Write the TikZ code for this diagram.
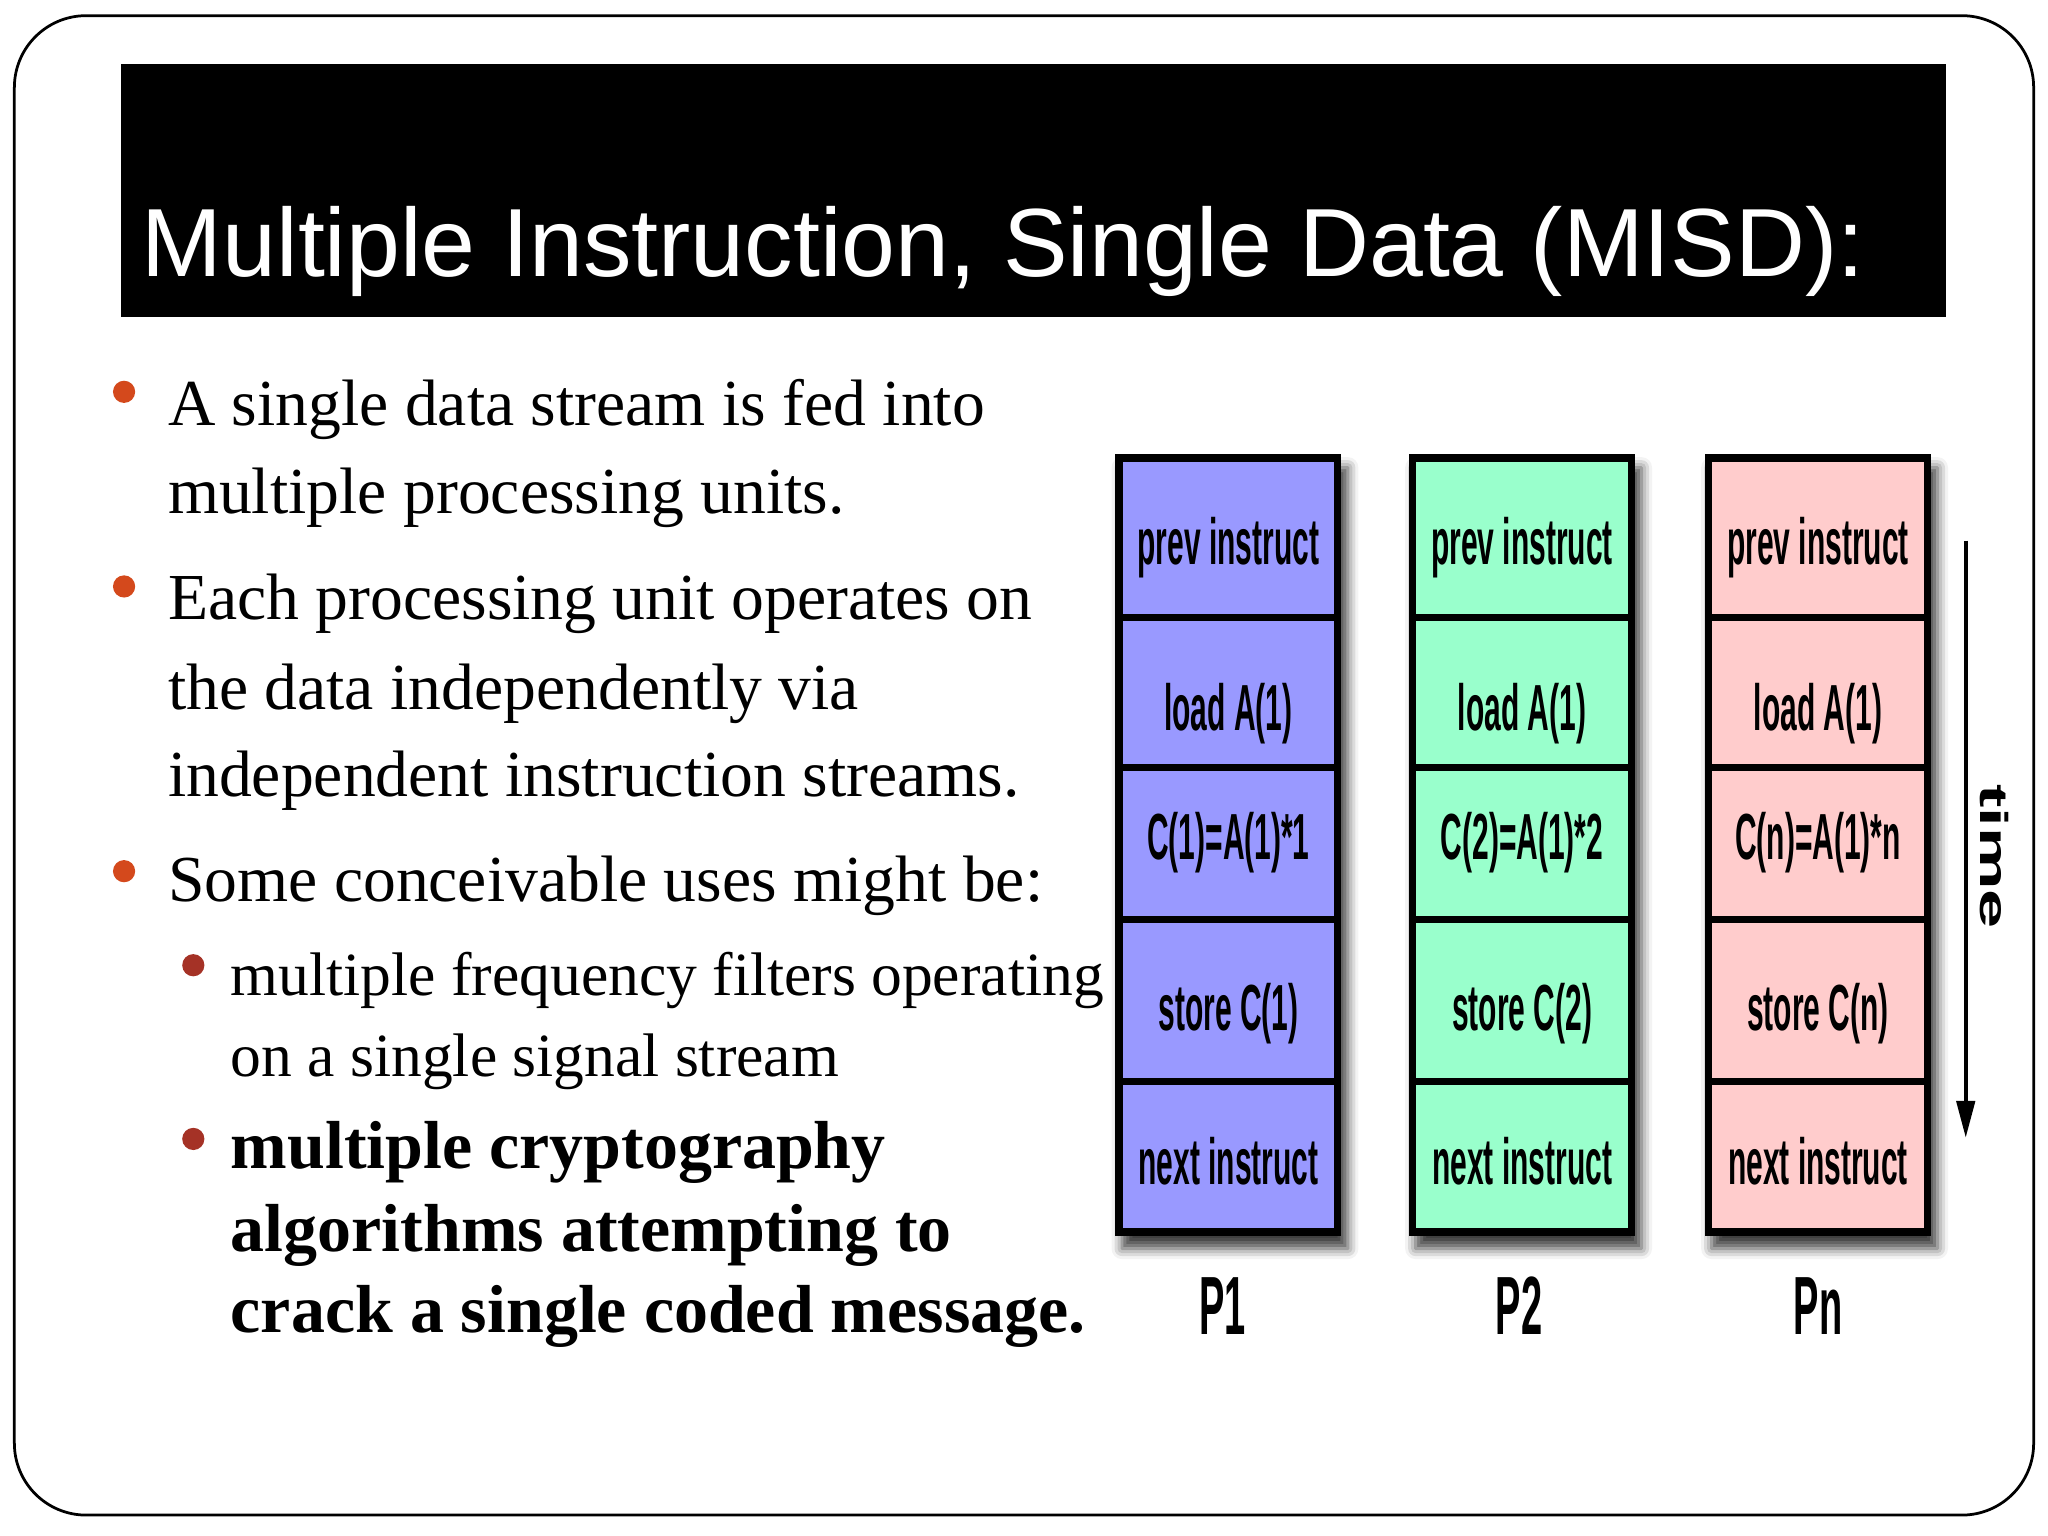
\documentclass[tikz,border=0pt]{standalone}
\usepackage{fontspec}
\setmainfont{Liberation Serif}
\newfontfamily\titlefont{Liberation Sans}
\newfontfamily\cellfont[FakeStretch=0.46]{Liberation Sans}
\newfontfamily\timefont[FakeStretch=1.8]{Liberation Sans}
\usetikzlibrary{arrows.meta,shadows.blur}

\definecolor{pone}{HTML}{9999FF}
\definecolor{ptwo}{HTML}{99FFCC}
\definecolor{pn}{HTML}{FFCCCC}
\definecolor{bulletred}{HTML}{D4491C}
\definecolor{subred}{HTML}{A53226}

\tikzset{
	point/.style={anchor=base west, inner sep=0pt, font=\fontsize{14.3}{17}\selectfont},
	subpoint/.style={anchor=base west, inner sep=0pt, font=\fontsize{13.4}{16}\selectfont},
	boldpoint/.style={anchor=base west, inner sep=0pt, font=\bfseries\fontsize{14.8}{17}\selectfont},
	dot/.style={circle, fill=bulletred, inner sep=0pt, minimum size=0.17cm},
	subdot/.style={dot, fill=subred},
	column/.style={fill=black, inner sep=0pt, minimum width=1.73cm, minimum height=5.98cm,
		blur shadow={shadow xshift=0.05cm, shadow yshift=-0.1cm, shadow blur radius=0.08cm, shadow opacity=75}},
	cell/.style={draw=black, line width=1.6pt, inner sep=0pt, minimum width=1.675cm, text depth=0pt,
		font=\cellfont\bfseries\fontsize{14.2}{17}\selectfont},
	% one style per row: height of the box, and how low the text sits
	prevrow/.style={cell, minimum height=1.2225cm, text height=0.40cm},
	loadrow/.style={cell, minimum height=1.145cm, text height=0.58cm},
	calcrow/.style={cell, minimum height=1.165cm, text height=0.24cm},
	storerow/.style={cell, minimum height=1.24cm, text height=0.46cm},
	nextrow/.style={cell, minimum height=1.1525cm, text height=0.42cm},
	proc/.style={anchor=base, inner sep=0pt, font=\cellfont\bfseries\fontsize{18}{20}\selectfont}
}

\begin{document}
\begin{tikzpicture}
	\useasboundingbox (0,0) rectangle (15.68,-11.76);
	\draw[line width=0.6pt, rounded corners=0.55cm] (0.11,-0.12) rectangle (15.57,-11.6);
	
	% title
	\node[fill=black, inner sep=0pt, minimum width=13.97cm, minimum height=1.94cm, anchor=north west] (bar) at (0.92,-0.48) {};
	\node[anchor=base west, inner sep=0pt, text=white, font=\titlefont\fontsize{21.1}{24}\selectfont] (title) at (1.08,-2.12) {Multiple Instruction, Single Data (MISD):};
	
	% bullets
	\node[dot] (d1) at (0.95,-3.00) {};
	\node[point] (b1a) at (1.28,-3.26) {A single data stream is fed into};
	\node[point] (b1b) at (1.28,-3.93) {multiple processing units.};
	
	\node[dot] (d2) at (0.95,-4.49) {};
	\node[point] (b2a) at (1.28,-4.74) {Each processing unit operates on};
	\node[point] (b2b) at (1.28,-5.43) {the data independently via};
	\node[point] (b2c) at (1.28,-6.10) {independent instruction streams.};
	
	\node[dot] (d3) at (0.95,-6.67) {};
	\node[point] (b3a) at (1.28,-6.90) {Some conceivable uses might be:};
	
	\node[subdot] (s1) at (1.48,-7.39) {};
	\node[subpoint] (s1a) at (1.76,-7.62) {multiple frequency filters operating};
	\node[subpoint] (s1b) at (1.76,-8.245) {on a single signal stream};
	
	\node[subdot] (s2) at (1.48,-8.72) {};
	\node[boldpoint] (s2a) at (1.76,-8.95) {multiple cryptography};
	\node[boldpoint] (s2b) at (1.76,-9.58) {algorithms attempting to};
	\node[boldpoint] (s2c) at (1.76,-10.20) {crack a single coded message.};
	
	% processors
	\node[column] (col1) at (9.405,-6.47) {};
	\node[column] (col2) at (11.653,-6.47) {};
	\node[column] (coln) at (13.919,-6.47) {};
	
	\node[prevrow, fill=pone] (p1prev) at (9.405,-4.119) {prev instruct};
	\node[loadrow, fill=pone] (p1load) at (9.405,-5.3025) {load A(1)};
	\node[calcrow, fill=pone] (p1calc) at (9.405,-6.4575) {C(1)=A(1)*1};
	\node[storerow, fill=pone] (p1store) at (9.405,-7.66) {store C(1)};
	\node[nextrow, fill=pone] (p1next) at (9.405,-8.856) {next instruct};
	
	\node[prevrow, fill=ptwo] (p2prev) at (11.653,-4.119) {prev instruct};
	\node[loadrow, fill=ptwo] (p2load) at (11.653,-5.3025) {load A(1)};
	\node[calcrow, fill=ptwo] (p2calc) at (11.653,-6.4575) {C(2)=A(1)*2};
	\node[storerow, fill=ptwo] (p2store) at (11.653,-7.66) {store C(2)};
	\node[nextrow, fill=ptwo] (p2next) at (11.653,-8.856) {next instruct};
	
	\node[prevrow, fill=pn] (pnprev) at (13.919,-4.119) {prev instruct};
	\node[loadrow, fill=pn] (pnload) at (13.919,-5.3025) {load A(1)};
	\node[calcrow, fill=pn] (pncalc) at (13.919,-6.4575) {C(n)=A(1)*n};
	\node[storerow, fill=pn] (pnstore) at (13.919,-7.66) {store C(n)};
	\node[nextrow, fill=pn] (pnnext) at (13.919,-8.856) {next instruct};
	
	\node[proc] (p1) at (9.36,-10.22) {P1};
	\node[proc] (p2) at (11.63,-10.22) {P2};
	\node[proc] (pnlab) at (13.92,-10.22) {Pn};
	
	% time
	\coordinate (tstart) at (15.05,-4.14);
	\coordinate (tend) at (15.05,-8.71);
	\draw[-{Triangle[width=4pt,length=8pt]}, line width=0.8pt] (tstart) -- (tend);
	\node[rotate=-90, inner sep=0pt, font=\timefont\bfseries\fontsize{8.5}{10}\selectfont] (timelab) at (15.27,-6.56) {time};
\end{tikzpicture}
\end{document}
